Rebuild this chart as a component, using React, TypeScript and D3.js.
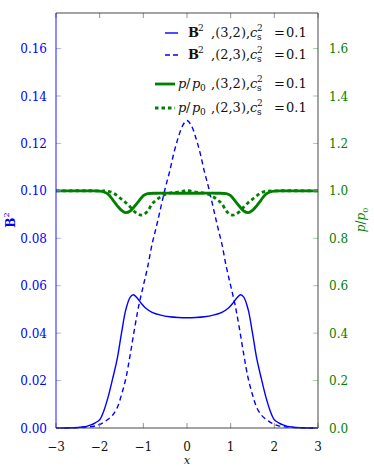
import React from 'react';
import * as d3 from 'd3';

// half profiles (x <= 0), mirrored to x > 0
const xsB = [-3, -2.6, -2.4, -2.3, -2.2, -2.1, -2.0, -1.9, -1.8, -1.7, -1.6, -1.5, -1.4, -1.3, -1.23, -1.15, -1.05, -0.95, -0.8, -0.6, -0.4, -0.2, 0];
const b32 = [0, 0.0001, 0.0004, 0.0007, 0.0013, 0.0022, 0.0035, 0.0075, 0.0135, 0.021, 0.029, 0.040, 0.050, 0.0552, 0.0562, 0.0550, 0.0526, 0.0506, 0.0488, 0.0476, 0.0469, 0.0466, 0.0465];

const xsB2 = [-3, -2.6, -2.3, -2.1, -2.0, -1.9, -1.8, -1.7, -1.6, -1.5, -1.4, -1.3, -1.2, -1.1, -1.0, -0.9, -0.8, -0.7, -0.6, -0.5, -0.4, -0.3, -0.2, -0.1, 0];
const b23 = [0, 0.0001, 0.0004, 0.0009, 0.0015, 0.0025, 0.0038, 0.0055, 0.0085, 0.014, 0.021, 0.031, 0.042, 0.052, 0.060, 0.068, 0.0775, 0.085, 0.093, 0.101, 0.108, 0.116, 0.1225, 0.1275, 0.1297];

const xsP = [-3, -2.2, -2.0, -1.9, -1.8, -1.7, -1.6, -1.5, -1.4, -1.3, -1.2, -1.1, -1.0, -0.9, -0.7, -0.3, 0];
const p32 = [1.0, 1.0, 0.999, 0.995, 0.985, 0.962, 0.938, 0.918, 0.908, 0.915, 0.935, 0.958, 0.980, 0.988, 0.990, 0.990, 0.990];

const xsP2 = [-3, -2.0, -1.8, -1.7, -1.6, -1.5, -1.4, -1.3, -1.2, -1.1, -1.05, -1.0, -0.9, -0.8, -0.7, -0.6, -0.5, -0.4, -0.3, -0.2, -0.1, 0];
const p23 = [1.0, 1.0, 0.998, 0.992, 0.98, 0.965, 0.950, 0.932, 0.912, 0.900, 0.898, 0.899, 0.915, 0.945, 0.962, 0.975, 0.985, 0.990, 0.993, 0.995, 0.998, 1.003];

const xTicks = [-3, -2, -1, 0, 1, 2, 3];
const leftTicks = [0, 0.02, 0.04, 0.06, 0.08, 0.1, 0.12, 0.14, 0.16];
const rightTicks = [0, 0.2, 0.4, 0.6, 0.8, 1.0, 1.2, 1.4, 1.6];

const BLUE = '#0000ff';
const GREEN = '#008000';
const serif = { fontFamily: 'DejaVu Serif' };

const mirror = (xs: number[], ys: number[]): [number, number][] => {
  const left = xs.map((x, i) => [x, ys[i]] as [number, number]);
  const right = left.slice(0, -1).reverse().map(([x, y]) => [-x, y] as [number, number]);
  return left.concat(right);
};

const fmtMinus = (v: number) => (v < 0 ? '\u2212' + Math.abs(v) : String(v));

// tail shared by all legend entries: ,(a,b),c_s^2 =0.1
const tail = (pair: string, y: number) => (
  <>
    <tspan x={211} y={y}>,{pair},</tspan>
    <tspan x={250} y={y} fontStyle="italic">c</tspan>
    <tspan x={257} y={y + 3} fontSize={9}>s</tspan>
    <tspan x={257} y={y - 6} fontSize={9}>2</tspan>
    <tspan x={274} y={y}>=</tspan>
    <tspan x={286} y={y}>0.1</tspan>
  </>
);

const App = () => {
  const W = 374, H = 466;
  const m = { left: 56, right: 318, top: 13, bottom: 428 };

  const x = d3.scaleLinear().domain([-3, 3]).range([m.left, m.right]);
  const yB = d3.scaleLinear().domain([0, 0.175]).range([m.bottom, m.top]);
  const yP = d3.scaleLinear().domain([0, 1.75]).range([m.bottom, m.top]);

  const lineB = d3.line<[number, number]>().x(d => x(d[0])).y(d => yB(d[1])).curve(d3.curveCatmullRom.alpha(0.5));
  const lineP = d3.line<[number, number]>().x(d => x(d[0])).y(d => yP(d[1])).curve(d3.curveCatmullRom.alpha(0.5));

  const bEntry = (pair: string, y: number) => (
    <text fontSize={13} fill="#111" style={serif}>
      <tspan x={188} y={y} fontWeight="bold">B</tspan>
      <tspan x={198} y={y - 6} fontSize={9}>2</tspan>
      {tail(pair, y)}
    </text>
  );
  const pEntry = (pair: string, y: number) => (
    <text fontSize={13} fill="#111" style={serif}>
      <tspan x={178} y={y} fontStyle="italic">p</tspan>
      <tspan x={186} y={y}>/</tspan>
      <tspan x={192} y={y} fontStyle="italic">p</tspan>
      <tspan x={200} y={y + 3} fontSize={9}>0</tspan>
      {tail(pair, y)}
    </text>
  );

  return (
    <svg width={W} height={H} style={{ position: 'absolute', left: 0, top: 0, background: '#fff' }}>
      <rect x={0} y={0} width={W} height={H} fill="#fff" />

      {/* curves */}
      <g fill="none">
        <path d={lineB(mirror(xsB, b32)) || ''} stroke={BLUE} strokeWidth={1.4} />
        <path d={lineB(mirror(xsB2, b23)) || ''} stroke={BLUE} strokeWidth={1.4} strokeDasharray="5,3.5" />
        <path d={lineP(mirror(xsP, p32)) || ''} stroke={GREEN} strokeWidth={2.8} />
        <path d={lineP(mirror(xsP2, p23)) || ''} stroke={GREEN} strokeWidth={2.8} strokeDasharray="3.5,3" />
      </g>

      {/* x ticks (bottom and top, inward) */}
      {xTicks.map(t => (
        <g key={'x' + t}>
          <line x1={x(t)} x2={x(t)} y1={m.bottom} y2={m.bottom - 5} stroke="#777" strokeWidth={0.8} />
          <line x1={x(t)} x2={x(t)} y1={m.top} y2={m.top + 5} stroke="#777" strokeWidth={0.8} />
          <text x={x(t)} y={451} textAnchor="middle" fontSize={12} fill="#111" style={serif}>{fmtMinus(t)}</text>
        </g>
      ))}

      {/* left ticks */}
      {leftTicks.map(t => (
        <g key={'l' + t}>
          <line x1={m.left} x2={m.left + 5} y1={yB(t)} y2={yB(t)} stroke="#9999ff" strokeWidth={0.8} />
          <text x={47} y={yB(t) + 4.5} textAnchor="end" fontSize={12} fill={BLUE} style={serif}>{t.toFixed(2)}</text>
        </g>
      ))}

      {/* right ticks */}
      {rightTicks.map(t => (
        <g key={'r' + t}>
          <line x1={m.right - 5} x2={m.right} y1={yP(t)} y2={yP(t)} stroke="#88c088" strokeWidth={0.8} />
          <text x={329} y={yP(t) + 4.5} textAnchor="start" fontSize={12} fill={GREEN} style={serif}>{t.toFixed(1)}</text>
        </g>
      ))}

      {/* spines */}
      <line x1={m.left} x2={m.right} y1={m.top} y2={m.top} stroke="#333" strokeWidth={0.9} />
      <line x1={m.left} x2={m.right} y1={m.bottom} y2={m.bottom} stroke="#333" strokeWidth={0.9} />
      <line x1={m.right} x2={m.right} y1={m.top} y2={m.bottom} stroke="#333" strokeWidth={0.9} />
      <line x1={m.left} x2={m.left} y1={m.top} y2={m.bottom} stroke={BLUE} strokeWidth={0.9} />

      {/* axis labels */}
      <text x={187} y={463.5} textAnchor="middle" fontSize={11.5} fontStyle="italic" fill="#111" style={serif}>x</text>
      <text transform="translate(15,220) rotate(-90)" textAnchor="middle" fontSize={12} fill={BLUE} style={serif}>
        <tspan fontWeight="bold">B</tspan>
        <tspan fontSize="8" dy="-6">2</tspan>
      </text>
      <text transform="translate(365,220) rotate(-90)" textAnchor="middle" fontSize={12} fill={GREEN} style={serif}>
        <tspan fontStyle="italic">p</tspan>
        <tspan>/</tspan>
        <tspan fontStyle="italic">p</tspan>
        <tspan fontSize="8" dy="3">0</tspan>
      </text>

      {/* legend */}
      <line x1={165} x2={178} y1={33} y2={33} stroke={BLUE} strokeWidth={1.4} />
      {bEntry('(3,2)', 37)}
      <line x1={165} x2={178} y1={55} y2={55} stroke={BLUE} strokeWidth={1.4} strokeDasharray="5,3" />
      {bEntry('(2,3)', 59)}
      <line x1={155} x2={175} y1={84} y2={84} stroke={GREEN} strokeWidth={2.8} />
      {pEntry('(3,2)', 88)}
      <line x1={155} x2={175} y1={108} y2={108} stroke={GREEN} strokeWidth={2.8} strokeDasharray="3.5,3" />
      {pEntry('(2,3)', 112)}
    </svg>
  );
};

export default App;
